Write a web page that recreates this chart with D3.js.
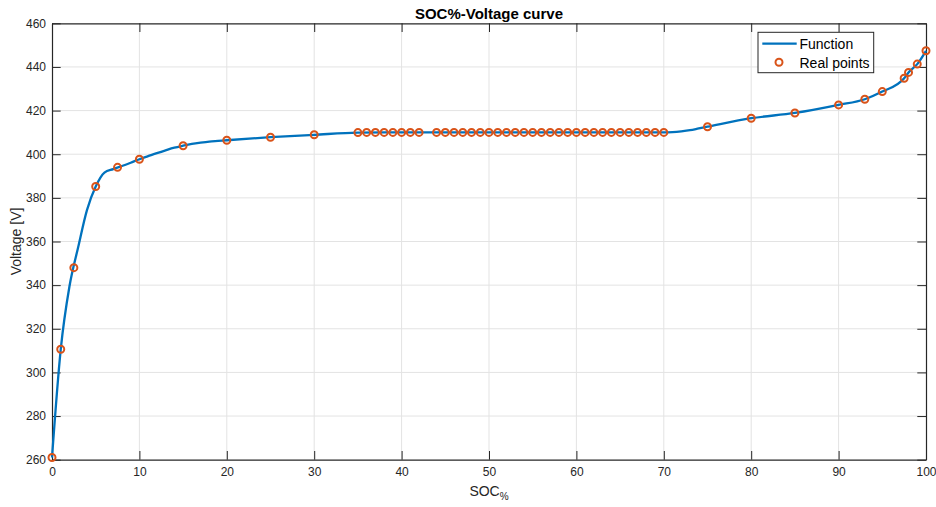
<!DOCTYPE html>
<html>
<head>
<meta charset="utf-8">
<script src="https://cdn.jsdelivr.net/npm/d3@7"></script>
<style>
body{margin:0;background:#fff;}
svg{display:block;font-family:"Liberation Sans",Arial,Helvetica,sans-serif;}
</style>
</head>
<body>
<svg id="chart" width="936" height="507"></svg>
<script>
// ---- data ----
const realSOC = [0,1,2.5,5,7.5,10,15,20,25,30,
  35,36,37,38,39,40,41,42,
  44,45,46,47,48,49,50,51,52,53,54,55,56,57,58,59,60,61,62,63,64,65,66,67,68,69,70,
  75,80,85,90,93,95,97.5,98,99,100];
const realV = [261,310.6,348.0,385.2,394.0,397.7,403.9,406.4,407.8,408.9,
  409.9,410,410,410,410,410,410,410,
  410,410,410,410,410,410,410,410,410,410,410,410,410,410,410,410,410,410,410,410,410,410,410,410,410,410,410,
  412.6,416.5,418.9,422.6,425.2,428.7,434.8,437.5,441.3,447.4];

const funcSOC = [0,1,2,3,4,5,6,7,8,9,10,11,12,13,14,15,16,17,18,19,20,25,30,35,40,50,60,70,71,72,73,74,75,80,85,90,93,95,97.5,98,99,100];
const funcV   = [261,310.6,339.5,357.5,374.4,385.2,391.6,393.2,394.6,396.1,397.7,399.1,400.5,401.8,403.0,403.9,404.7,405.3,405.8,406.1,406.4,407.8,408.9,409.9,410,410,410,410,410.15,410.5,411.0,411.8,412.6,416.5,418.9,422.6,425.2,428.7,434.8,437.5,441.3,447.4];

const xTicks = [0,10,20,30,40,50,60,70,80,90,100];
const yTicks = [260,280,300,320,340,360,380,400,420,440,460];

const titleText = "SOC%-Voltage curve";
const yLabel = "Voltage [V]";
const legendLabels = ["Function","Real points"];

// ---- layout ----
const L = 52, R = 926, T = 23.3, B = 459.7;
const svg = d3.select("#chart");
const x = d3.scaleLinear().domain([0,100]).range([L,R]);
const y = d3.scaleLinear().domain([260,460]).range([B,T]);
const axisColor = "#262626";
const tickLen = 8.7;

// grid
svg.append("g").selectAll("line").data(xTicks.slice(1,-1)).join("line")
  .attr("x1",d=>x(d)).attr("x2",d=>x(d)).attr("y1",T).attr("y2",B)
  .attr("stroke","#e3e3e3").attr("stroke-width",1);
svg.append("g").selectAll("line").data(yTicks.slice(1,-1)).join("line")
  .attr("y1",d=>y(d)).attr("y2",d=>y(d)).attr("x1",L).attr("x2",R)
  .attr("stroke","#e3e3e3").attr("stroke-width",1);

// axes (inner ticks, box)
const xAxisB = d3.axisBottom(x).tickValues(xTicks).tickSizeInner(-tickLen).tickSizeOuter(0).tickPadding(8);
const xAxisT = d3.axisTop(x).tickValues(xTicks).tickSizeInner(-tickLen).tickSizeOuter(0).tickFormat("");
const yAxisL = d3.axisLeft(y).tickValues(yTicks).tickSizeInner(-tickLen).tickSizeOuter(0).tickPadding(6);
const yAxisR = d3.axisRight(y).tickValues(yTicks).tickSizeInner(-tickLen).tickSizeOuter(0).tickFormat("");

function styleAxis(g){
  g.selectAll(".domain").attr("stroke",axisColor).attr("stroke-width",1.2);
  g.selectAll(".tick line").attr("stroke",axisColor).attr("stroke-width",1);
  g.selectAll(".tick text").attr("fill",axisColor).style("font-size","12px").style("font-family","'Liberation Sans',Arial,sans-serif");
}
svg.append("g").attr("transform",`translate(0,${B})`).call(xAxisB).call(styleAxis);
svg.append("g").attr("transform",`translate(0,${T})`).call(xAxisT).call(styleAxis);
svg.append("g").attr("transform",`translate(${L},0)`).call(yAxisL).call(styleAxis);
svg.append("g").attr("transform",`translate(${R},0)`).call(yAxisR).call(styleAxis);

// function line
const funcData = funcSOC.map((s,i)=>({s, v:funcV[i]}));
svg.append("path").datum(funcData)
  .attr("fill","none").attr("stroke","#0072BD").attr("stroke-width",2.3)
  .attr("stroke-linejoin","round")
  .attr("d", d3.line().x(d=>x(d.s)).y(d=>y(d.v)).curve(d3.curveMonotoneX));

// real points
const realData = realSOC.map((s,i)=>({s, v:realV[i]}));
svg.append("g").selectAll("circle").data(realData).join("circle")
  .attr("cx",d=>x(d.s)).attr("cy",d=>y(d.v)).attr("r",3.5)
  .attr("fill","none").attr("stroke","#D95319").attr("stroke-width",2);

// title
svg.append("text").attr("x",(L+R)/2).attr("y",18.5).attr("text-anchor","middle")
  .attr("fill","#000").style("font-weight","bold").style("font-size","15px")
  .text(titleText);

// x label with subscript
const xl = svg.append("text").attr("x",(L+R)/2).attr("y",496).attr("text-anchor","middle")
  .attr("fill",axisColor).style("font-size","14px");
xl.append("tspan").text("SOC");
xl.append("tspan").attr("dy",4).style("font-size","10px").text("%");

// y label
svg.append("text").attr("transform",`translate(20.5,${(T+B)/2}) rotate(-90)`)
  .attr("text-anchor","middle").attr("fill",axisColor).style("font-size","14px").text(yLabel);

// legend
const lg = svg.append("g");
lg.append("rect").attr("x",758).attr("y",32.3).attr("width",115.7).attr("height",40.4)
  .attr("fill","#fff").attr("stroke",axisColor).attr("stroke-width",1);
lg.append("line").attr("x1",762.3).attr("x2",796.7).attr("y1",43.7).attr("y2",43.7)
  .attr("stroke","#0072BD").attr("stroke-width",2.3);
lg.append("circle").attr("cx",779).attr("cy",62.3).attr("r",3.5)
  .attr("fill","none").attr("stroke","#D95319").attr("stroke-width",2);
lg.selectAll("text.lt").data(legendLabels).join("text").attr("class","lt")
  .attr("x",799.5).attr("y",(d,i)=>i===0?48.7:67.7)
  .attr("fill","#000").style("font-size","14px").text(d=>d);
</script>
</body>
</html>
